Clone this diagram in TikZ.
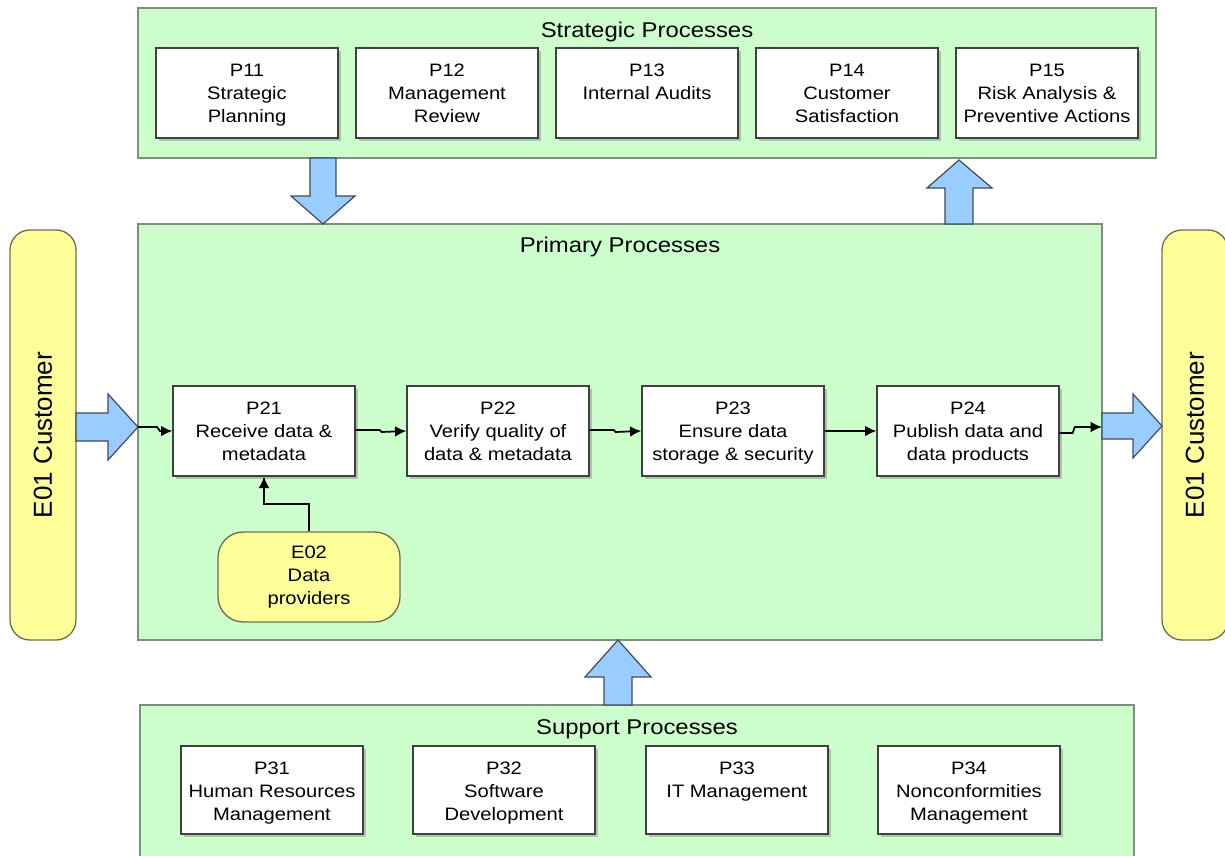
\documentclass[tikz,border=0pt]{standalone}
\usepackage{fontspec}
\setmainfont{Liberation Sans}[FakeStretch=1.12]
\newfontfamily\custfont{Liberation Sans}
\usetikzlibrary{arrows.meta,shadows}

\definecolor{procgreen}{HTML}{CCFFCC}
\definecolor{groupline}{HTML}{7F8F7F}
\definecolor{extyellow}{HTML}{FFFF99}
\definecolor{extline}{HTML}{6F6F50}
\definecolor{flowblue}{HTML}{99CCFF}
\definecolor{flowline}{HTML}{3F4B5F}

\begin{document}
\begin{tikzpicture}[x=0.75pt,y=-0.75pt,
  group/.style={draw=groupline, line width=1.1pt, fill=procgreen, inner sep=0pt},
  grouptitle/.style={font=\fontsize{16}{19}\selectfont, inner sep=0pt},
  procbox/.style={draw=black!75, line width=1pt, fill=white, inner sep=0pt,
    minimum width=136.5pt, minimum height=67.5pt,
    drop shadow={shadow xshift=2pt, shadow yshift=-2pt, fill=black!45}},
  boxtext/.style={font=\fontsize{13.5}{17.25}\selectfont, align=center,
    anchor=north, inner sep=0pt},
  ext/.style={draw=extline, line width=1pt, fill=extyellow, inner sep=0pt},
  blockarrow/.style={draw=flowline, line width=0.9pt, fill=flowblue, line join=miter},
  flow/.style={draw=black, line width=1.3pt, -{Latex[length=8.5pt,width=8pt]}}
]
\clip (0,0) rectangle (1225,856);
\fill[white] (0,0) rectangle (1225,856);

% ---------- strategic processes ----------
\node[group, minimum width=763.5pt, minimum height=112.5pt] (strat) at (647,83) {};
\node[grouptitle] (stratT) at (647,32) {Strategic Processes};
\foreach \nm/\cx/\txt in {p11/247/{P11\\Strategic\\Planning},
                         p12/447/{P12\\Management\\Review},
                         p13/647/{P13\\Internal Audits},
                         p14/847/{P14\\Customer\\Satisfaction},
                         p15/1047/{P15\\Risk Analysis \&\\Preventive Actions}}{
  \node[procbox] (\nm) at (\cx,93) {};
  \node[boxtext] (\nm t) at ([yshift=-12.2pt]\nm.north) {\txt};
}

% ---------- primary processes ----------
\node[group, minimum width=723pt, minimum height=312pt] (prim) at (620,432) {};
\node[grouptitle] (primT) at (620,247) {Primary Processes};

% ---------- support processes ----------
\node[group, minimum width=745.5pt, minimum height=135pt] (supp) at (637,795) {};
\node[grouptitle] (suppT) at (637,729) {Support Processes};
\foreach \nm/\cx/\txt in {p31/272/{P31\\Human Resources\\Management},
                         p32/504/{P32\\Software\\Development},
                         p33/737/{P33\\IT Management},
                         p34/969/{P34\\Nonconformities\\Management}}{
  \node[procbox, minimum height=66pt] (\nm) at (\cx,790) {};
  \node[boxtext] (\nm t) at ([yshift=-12.2pt]\nm.north) {\txt};
}

% ---------- block arrows between the groups ----------
\draw[blockarrow] (310,158) -- (336,158) -- (336,196) -- (355,196) -- (323,224)
  -- (291,196) -- (310,196) -- cycle;
\draw[blockarrow] (945,224) -- (973,224) -- (973,188) -- (992,188) -- (959,160)
  -- (927,188) -- (945,188) -- cycle;
\draw[blockarrow] (604,705) -- (632,705) -- (632,677) -- (651,677) -- (618,640)
  -- (585,677) -- (604,677) -- cycle;

% ---------- external customers ----------
\node[ext, rounded corners=15pt, rotate=90, minimum width=307.5pt, minimum height=49.5pt,
  font=\custfont\fontsize{19.5}{22}\selectfont] (e01l) at (43,435) {E01 Customer};
\node[ext, rounded corners=15pt, rotate=90, minimum width=307.5pt, minimum height=49.5pt,
  font=\custfont\fontsize{19.5}{22}\selectfont] (e01r) at (1195,435) {E01 Customer};
\draw[blockarrow] (76,413) -- (108,413) -- (108,394) -- (138,427) -- (108,460)
  -- (108,441) -- (76,441) -- cycle;
\draw[blockarrow] (1102,413) -- (1133,413) -- (1133,394) -- (1162,426) -- (1133,458)
  -- (1133,439) -- (1102,439) -- cycle;
\coordinate (inL) at (138,427);
\coordinate (outR) at (1102,427);

% ---------- primary process chain ----------
\node[procbox] (p21) at (264,431) {};
\node[boxtext] (p21t) at ([yshift=-12.2pt]p21.north) {P21\\Receive data \&\\metadata};
\node[procbox] (p22) at (498,431) {};
\node[boxtext] (p22t) at ([yshift=-12.2pt]p22.north) {P22\\Verify quality of\\data \& metadata};
\node[procbox] (p23) at (733,431) {};
\node[boxtext] (p23t) at ([yshift=-12.2pt]p23.north) {P23\\Ensure data\\storage \& security};
\node[procbox] (p24) at (968,431) {};
\node[boxtext] (p24t) at ([yshift=-12.2pt]p24.north) {P24\\Publish data and\\data products};

\node[ext, rounded corners=19pt, minimum width=136.5pt, minimum height=67.5pt, align=center,
  font=\fontsize{13.5}{17.25}\selectfont] (e02) at (309,577) {E02\\Data\\providers};

% ---------- flows ----------
\draw[flow] (inL) -- ++(19,0) -- ++(3,4) -- (p21.west);
\draw[flow] ([yshift=0.75pt]p21.east) -- ++(24,0) -- ++(2,2) -- (p22.west);
\draw[flow] ([yshift=0.75pt]p22.east) -- ++(24,0) -- ++(2,2) -- (p23.west);
\draw[flow] (p23.east) -- (p24.west);
\draw[flow] ([yshift=-1.5pt]p24.east) -- ++(13,0) -- ++(2,-6) -- (outR);
\draw[flow] (e02.north) -- ++(0,-27) -| (p21.south);
\end{tikzpicture}
\end{document}
